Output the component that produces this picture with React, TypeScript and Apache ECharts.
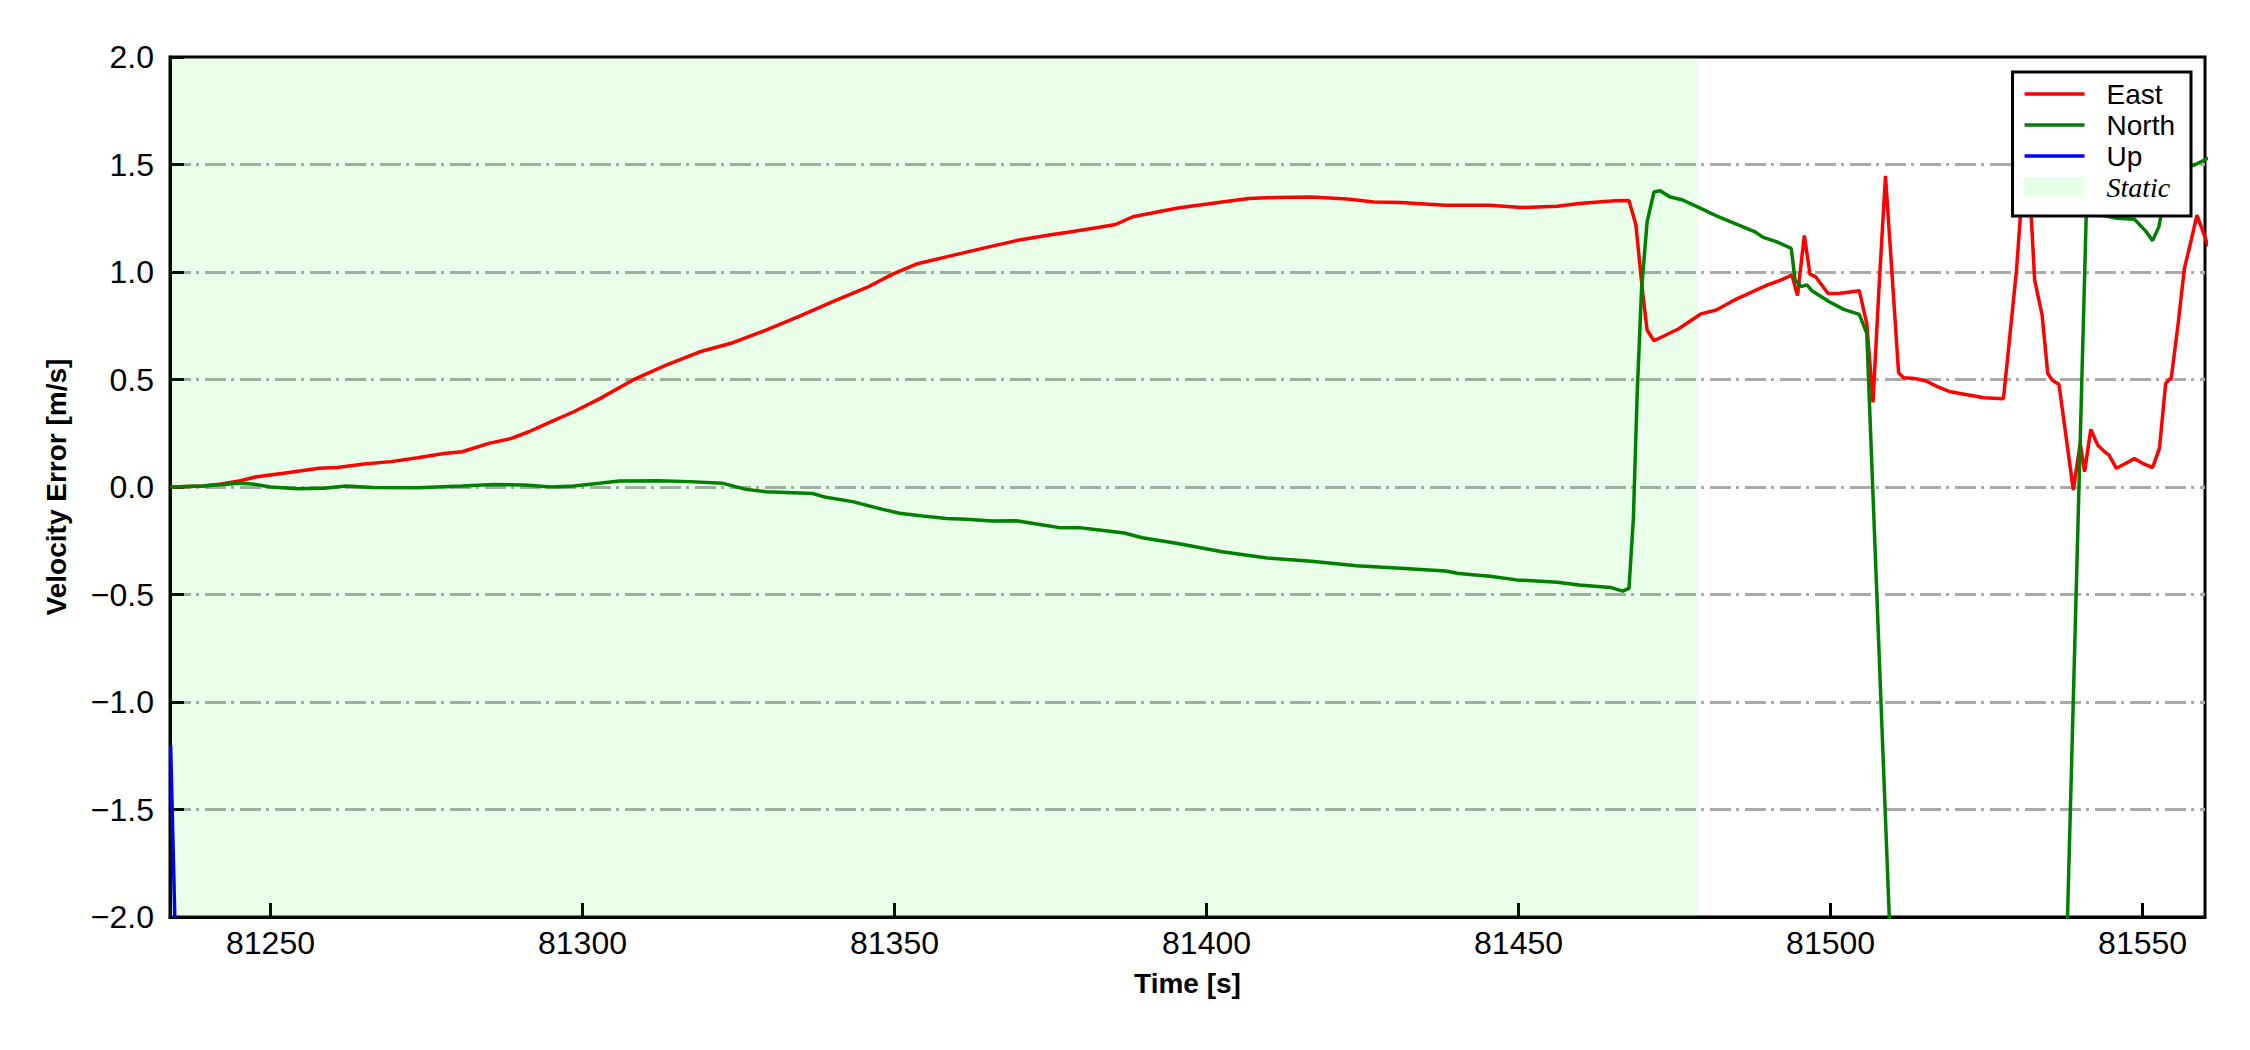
import React, { useEffect, useRef } from "react";
import * as echarts from "echarts";

// ---- data (time in s, velocity error in m/s) ----
const eastT = [
  81234.0, 81239.2, 81242.1, 81245.0, 81247.8, 81252.1, 81257.8, 81260.7, 81265.0, 81269.3,
  81273.6, 81277.8, 81280.7, 81285.0, 81288.6, 81291.4, 81295.0, 81298.6, 81302.7, 81308.1,
  81313.4, 81318.8, 81324.1, 81329.4, 81334.8, 81340.1, 81345.5, 81349.7, 81353.5, 81358.8,
  81364.1, 81369.5, 81374.8, 81378.6, 81382.8, 81385.4, 81388.2, 81395.4, 81402.5, 81406.8,
  81411.1, 81416.8, 81422.6, 81426.8, 81431.1, 81438.3, 81445.4, 81450.4, 81456.2, 81459.7,
  81465.4, 81467.7, 81468.8, 81469.9, 81470.6, 81471.7, 81475.6, 81479.2, 81481.7, 81484.9,
  81489.9, 81492.1, 81493.8, 81494.7, 81495.8, 81496.7, 81497.6, 81499.6, 81501.3, 81504.6,
  81505.8, 81506.8, 81507.8, 81508.8, 81509.6, 81510.9, 81511.7, 81513.5, 81515.3, 81517.1,
  81519.2, 81522.1, 81524.6, 81527.7, 81528.5, 81529.8, 81530.6, 81531.3, 81532.1, 81532.7,
  81533.9, 81534.8, 81535.5, 81536.6, 81538.9, 81540.0, 81540.7, 81541.7, 81542.8, 81543.9,
  81544.6, 81545.8, 81547.1, 81548.7, 81550.0, 81551.6, 81552.7, 81553.7, 81554.6, 81555.7,
  81556.7, 81557.8, 81558.7, 81559.6, 81560.5,
];
const eastV = [
  0.0, 0.005, 0.014, 0.028, 0.048, 0.064, 0.087, 0.091, 0.107, 0.118,
  0.136, 0.156, 0.164, 0.203, 0.226, 0.257, 0.304, 0.35, 0.41, 0.498,
  0.567, 0.629, 0.671, 0.73, 0.795, 0.862, 0.927, 0.99, 1.037, 1.074,
  1.11, 1.146, 1.172, 1.188, 1.208, 1.221, 1.257, 1.298, 1.326, 1.342,
  1.347, 1.349, 1.339, 1.326, 1.323, 1.311, 1.31, 1.3, 1.306, 1.319,
  1.331, 1.332, 1.22, 0.9, 0.73, 0.68, 0.735, 0.805, 0.823, 0.874,
  0.94, 0.963, 0.986, 0.89, 1.17, 0.99, 0.978, 0.9, 0.9, 0.913,
  0.76, 0.394, 0.947, 1.447, 1.1, 0.532, 0.508, 0.505, 0.493, 0.467,
  0.443, 0.428, 0.415, 0.411, 0.637, 1.01, 1.335, 1.65, 1.29, 0.963,
  0.8, 0.529, 0.498, 0.477, -0.014, 0.203, 0.071, 0.268, 0.195, 0.164,
  0.149, 0.087, 0.107, 0.132, 0.11, 0.09, 0.18, 0.482, 0.508, 0.76,
  1.017, 1.149, 1.265, 1.195, 1.12,
];

const northT = [
  81234.0, 81239.2, 81245.0, 81247.1, 81250.0, 81254.3, 81258.5, 81262.1, 81266.4, 81273.6,
  81280.7, 81285.7, 81290.7, 81295.0, 81298.6, 81302.7, 81305.9, 81312.3, 81317.2, 81322.5,
  81326.2, 81329.4, 81336.9, 81339.0, 81343.3, 81348.1, 81350.8, 81354.5, 81358.3, 81361.5,
  81365.7, 81369.5, 81373.8, 81376.4, 81379.6, 81382.8, 81386.8, 81389.7, 81395.4, 81402.5,
  81409.7, 81416.8, 81424.0, 81431.1, 81438.3, 81440.4, 81445.4, 81449.7, 81456.2, 81459.7,
  81464.7, 81466.7, 81467.7, 81468.4, 81469.0, 81469.7, 81470.6, 81471.7, 81472.7, 81474.2,
  81476.3, 81479.2, 81482.0, 81484.9, 81487.8, 81489.2, 81491.3, 81493.7, 81494.3, 81495.3,
  81496.2, 81497.0, 81499.8, 81502.1, 81504.6, 81505.8, 81511.0, 81536.5, 81541.0, 81542.5,
  81545.9, 81548.7, 81550.5, 81551.6, 81552.6, 81553.2, 81554.5, 81556.5, 81558.5, 81560.5,
];
const northV = [
  0.0, 0.005, 0.017, 0.014, 0.0, -0.008, -0.006, 0.005, -0.002, -0.003,
  0.005, 0.012, 0.009, 0.0, 0.005, 0.017, 0.028, 0.029, 0.025, 0.017,
  -0.011, -0.022, -0.03, -0.048, -0.068, -0.104, -0.122, -0.135, -0.146, -0.15,
  -0.158, -0.157, -0.177, -0.189, -0.189, -0.2, -0.214, -0.236, -0.263, -0.301,
  -0.33, -0.345, -0.366, -0.378, -0.391, -0.402, -0.415, -0.432, -0.443, -0.456,
  -0.467, -0.484, -0.472, -0.146, 0.425, 0.915, 1.233, 1.372, 1.378, 1.35,
  1.335, 1.296, 1.257, 1.223, 1.188, 1.161, 1.141, 1.11, 0.963, 0.932,
  0.94, 0.913, 0.862, 0.826, 0.803, 0.715, -3.2, -3.6, 1.3, 1.27,
  1.25, 1.245, 1.19, 1.146, 1.21, 1.3, 1.42, 1.48, 1.5, 1.53,
];

const upT = [81234.0, 81236.0, 81300.0, 81400.0, 81500.0, 81560.5];
const upV = [-1.2, -3.6, -4.0, -4.0, -4.0, -4.0];

const xMin = 81233.9;
const xMax = 81560.0;
const staticStart = 81233.9;
const staticEnd = 81478.7;

const zip = (t: number[], v: number[]) => t.map((x, i) => [x, v[i]]);

const SANS = "'Liberation Sans', Arial, sans-serif";
const SERIF = "'Liberation Serif', 'Times New Roman', serif";
const LINE_ICON = "path://M0,0H60V3.4H0Z";

export default function App() {
  const ref = useRef<HTMLDivElement>(null);

  useEffect(() => {
    if (!ref.current) return;
    const chart = echarts.init(ref.current, undefined, { renderer: "svg" });
    const lw = 3.5;
    chart.setOption({
      animation: false,
      backgroundColor: "#ffffff",
      grid: {
        left: 170,
        top: 57,
        right: 45,
        bottom: 133,
        show: true,
        borderColor: "#000",
        borderWidth: 3,
        backgroundColor: "transparent",
      },
      legend: {
        orient: "vertical",
        right: 59,
        top: 72,
        backgroundColor: "#ffffff",
        borderColor: "#000",
        borderWidth: 3,
        borderRadius: 0,
        padding: [8, 16, 15, 12],
        itemGap: 3,
        itemWidth: 60,
        itemHeight: 19,
        selectedMode: false,
        textStyle: {
          fontFamily: SANS,
          fontSize: 28,
          color: "#000",
          padding: [0, 0, 0, 17],
        },
        data: [
          { name: "East", icon: LINE_ICON, itemStyle: { color: "#ff0000" } },
          { name: "North", icon: LINE_ICON, itemStyle: { color: "#008000" } },
          { name: "Up", icon: LINE_ICON, itemStyle: { color: "#0000ff" } },
          {
            name: "Static",
            icon: "rect",
            itemStyle: { color: "#e6ffe6" },
            textStyle: { fontFamily: SERIF, fontStyle: "italic", fontSize: 28 },
          },
        ],
      },
      xAxis: {
        type: "value",
        min: xMin,
        max: xMax,
        splitNumber: 6,
        name: "Time [s]",
        nameLocation: "middle",
        nameGap: 52,
        nameTextStyle: { fontFamily: SANS, fontSize: 28, fontWeight: "bold", color: "#000" },
        axisLine: { show: true, onZero: false, lineStyle: { color: "#000", width: 3 } },
        axisTick: {
          show: true,
          inside: true,
          length: 14,
          lineStyle: { color: "#000", width: 3 },
        },
        axisLabel: {
          fontFamily: SANS,
          fontSize: 32,
          color: "#000",
          margin: 10,
          showMinLabel: false,
          showMaxLabel: false,
          formatter: (v: number) => String(Math.round(v)),
        },
        splitLine: { show: false },
      },
      yAxis: {
        type: "value",
        min: -2,
        max: 2,
        interval: 0.5,
        name: "Velocity Error [m/s]",
        nameLocation: "middle",
        nameGap: 100,
        nameRotate: 90,
        nameTextStyle: { fontFamily: SANS, fontSize: 28, fontWeight: "bold", color: "#000" },
        axisLine: { show: true, onZero: false, lineStyle: { color: "#000", width: 3 } },
        axisTick: { show: true, inside: true, length: 14, lineStyle: { color: "#000", width: 3 } },
        axisLabel: {
          fontFamily: SANS,
          fontSize: 32,
          color: "#000",
          margin: 16,
          formatter: (v: number) => (v < 0 ? "\u2212" : "") + Math.abs(v).toFixed(1),
        },
        splitLine: {
          show: true,
          showMinLine: false,
          showMaxLine: false,
          lineStyle: { color: "#aaaaaa", width: 3, type: [21, 5, 3, 6] },
        },
      },
      series: [
        {
          name: "East",
          type: "line",
          data: zip(eastT, eastV),
          showSymbol: false,
          symbol: "none",
          silent: true,
          color: "#ff0000",
          lineStyle: { color: "#ff0000", width: lw },
          markArea: {
            silent: true,
            itemStyle: { color: "rgba(0,255,0,0.085)" },
            label: { show: false },
            data: [[{ xAxis: staticStart }, { xAxis: staticEnd }]],
          },
        },
        {
          name: "North",
          type: "line",
          data: zip(northT, northV),
          showSymbol: false,
          symbol: "none",
          silent: true,
          color: "#008000",
          lineStyle: { color: "#008000", width: lw },
        },
        {
          name: "Up",
          type: "line",
          data: zip(upT, upV),
          showSymbol: false,
          symbol: "none",
          silent: true,
          color: "#0000ff",
          lineStyle: { color: "#0000ff", width: lw },
        },
        {
          name: "Static",
          type: "line",
          data: [],
          showSymbol: false,
          symbol: "none",
          silent: true,
          color: "#e6ffe6",
          lineStyle: { width: 0 },
        },
      ],
    });
    return () => chart.dispose();
  }, []);

  return (
    <div
      ref={ref}
      style={{ position: "absolute", left: 0, top: 0, width: 2250, height: 1050 }}
    />
  );
}
